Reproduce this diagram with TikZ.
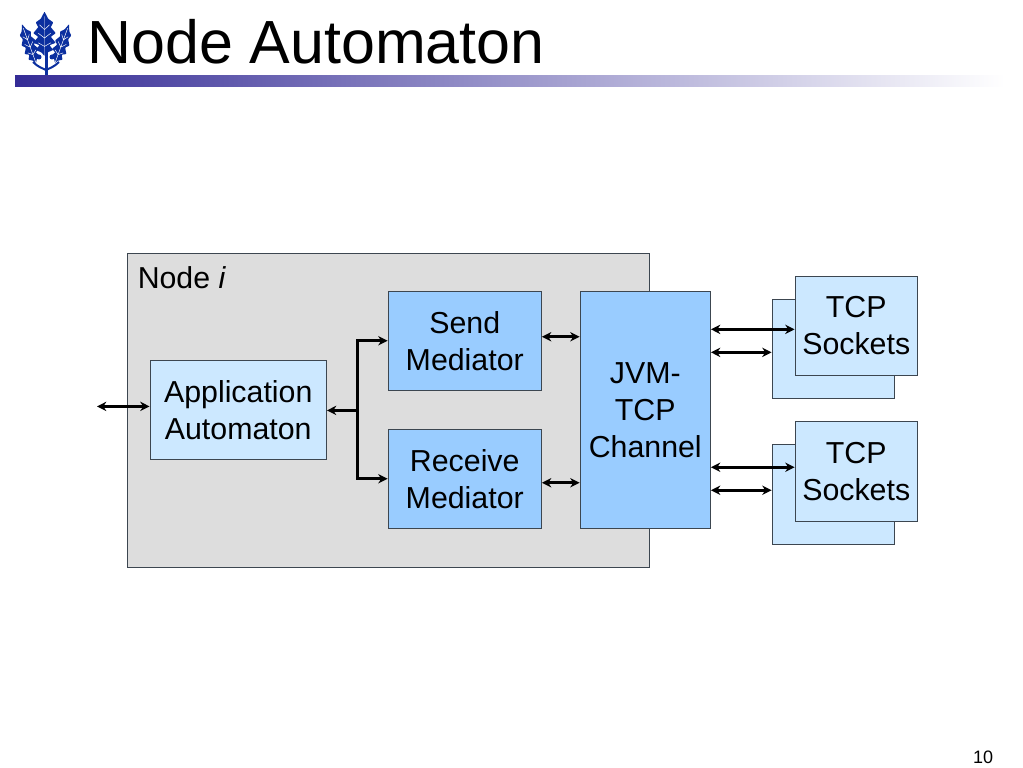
\documentclass[tikz,border=0pt]{standalone}
\usepackage{fontspec}
\setmainfont{Liberation Sans}
\usetikzlibrary{arrows.meta}
\definecolor{paleblue}{HTML}{CCE8FF}
\definecolor{midblue}{HTML}{99CCFF}
\definecolor{nodegrey}{HTML}{DDDDDD}
\definecolor{edgegrey}{HTML}{3C4650}
\definecolor{leafblue}{HTML}{0B2F9F}
\definecolor{barblue}{HTML}{352C96}
\tikzset{
    block/.style={draw=edgegrey, line width=0.7pt, inner sep=0pt, align=center,
        font=\fontsize{22.75}{27.8}\selectfont, text depth=-3.4pt},
    palebox/.style={block, fill=paleblue},
    midbox/.style={block, fill=midblue},
    link/.style={line width=2pt, {Stealth[length=7pt,width=7pt]}-{Stealth[length=7pt,width=7pt]}},
    bus/.style={line width=2.1pt},
    buslink/.style={bus, -{Stealth[length=7pt,width=7pt]}},
    leaf/.pic={
        \fill[leafblue, rounded corners=0.5pt] (0,0) -- (2.5,-3) -- (7,-5) -- (4,-9) -- (9,-11) -- (5,-16)
            -- (9,-19) -- (5,-24) -- (7,-28) -- (3,-31) -- (0,-37) -- (-3,-31) -- (-7,-28) -- (-5,-24)
            -- (-9,-19) -- (-5,-16) -- (-9,-11) -- (-4,-9) -- (-7,-5) -- (-2.5,-3) -- cycle;
        \draw[white, line width=0.35pt] (0,-1) -- (0,-33)
            (0,-8) -- (5,-11) (0,-8) -- (-5,-11)
            (0,-15) -- (5,-19) (0,-15) -- (-5,-19)
            (0,-22) -- (4,-26) (0,-22) -- (-4,-26);
    }
}
\begin{document}
\begin{tikzpicture}[x=0.75pt, y=-0.75pt]
    \useasboundingbox (0,0) rectangle (1023,767);

    % Logo
    \pic[xscale=1.25, yscale=1.2] at (44.5,56) {leaf};
    \pic[rotate=20, xscale=0.85, yscale=1.12] at (36,63) {leaf};
    \pic[rotate=-20, xscale=0.85, yscale=1.12] at (55,63) {leaf};
    \fill[leafblue] (44.5,50) -- (47.5,50) -- (47.5,76) -- (44.5,76) -- cycle;
    \fill[leafblue] (39,57) circle (2.5) (52,57) circle (2.5);
    \draw[leafblue, line width=1.5pt] (33,62) .. controls (38,67) and (42,68) .. (46,70)
        (59,62) .. controls (54,67) and (50,68) .. (46,70);

    % Title and rule
    \node[anchor=base west, inner sep=0pt, font=\fontsize{45.7}{50}\selectfont] (title) at (87,63.5) {Node Automaton};
    \shade[left color=barblue, right color=white] (15,76) rectangle (1005,86);
    \node[inner sep=0pt, font=\fontsize{13.5}{16}\selectfont] (pagenum) at (983,757) {10};

    % Enclosing node
    \node[block, fill=nodegrey, minimum width=522*0.75pt, minimum height=314.5*0.75pt] (nodei) at (388,410.25) {};
    \node[anchor=base west, inner sep=0pt, font=\fontsize{22.7}{27.6}\selectfont] (nodelabel) at (137.5,288) {Node \textit{i}};

    % Blocks
    \node[palebox, minimum width=176.5*0.75pt, minimum height=99.5*0.75pt] (app) at (238.25,409.75) {Application\\Automaton};
    \node[midbox, minimum width=153.5*0.75pt, minimum height=99.5*0.75pt] (send) at (464.75,340.75) {Send\\Mediator};
    \node[midbox, minimum width=153.5*0.75pt, minimum height=99.5*0.75pt] (recv) at (464.75,478.75) {Receive\\Mediator};
    \node[midbox, minimum width=130.5*0.75pt, minimum height=237.5*0.75pt] (jvm) at (645.25,409.75) {JVM-\\TCP\\Channel};

    % Socket stacks
    \foreach \name/\ypos/\nudge in {upper/325.75/-2.7pt, lower/471.25/3pt} {
        \node[palebox, minimum width=122.5*0.75pt, minimum height=99.5*0.75pt] (\name back) at (833.25,\ypos+23) {};
        \node[palebox, minimum width=122.5*0.75pt, minimum height=99.5*0.75pt] (\name front) at (856.25,\ypos) {TCP\\Sockets};
        \draw[link] ([yshift=\nudge]jvm.east |- \name front.west) -- ([yshift=\nudge]\name front.west);
        \draw[link] ([yshift=\nudge]jvm.east |- \name back.west) -- ([yshift=\nudge]\name back.west);
    }

    % Connectors
    \coordinate (outside) at (97,406.4);
    \coordinate (branch) at (357.4,410.4);
    \draw[link] (outside) -- (outside -| app.west);
    \draw[bus, -{Stealth[length=7pt,width=7pt]}] (branch) -- (app.east |- branch);
    \draw[buslink] (branch) |- (send.west);
    \draw[buslink] (branch) |- (recv.west);
    \draw[link] ([yshift=3pt]send.east) -- ([yshift=3pt]send.east -| jvm.west);
    \draw[link] ([yshift=-3pt]recv.east) -- ([yshift=-3pt]recv.east -| jvm.west);
\end{tikzpicture}
\end{document}
